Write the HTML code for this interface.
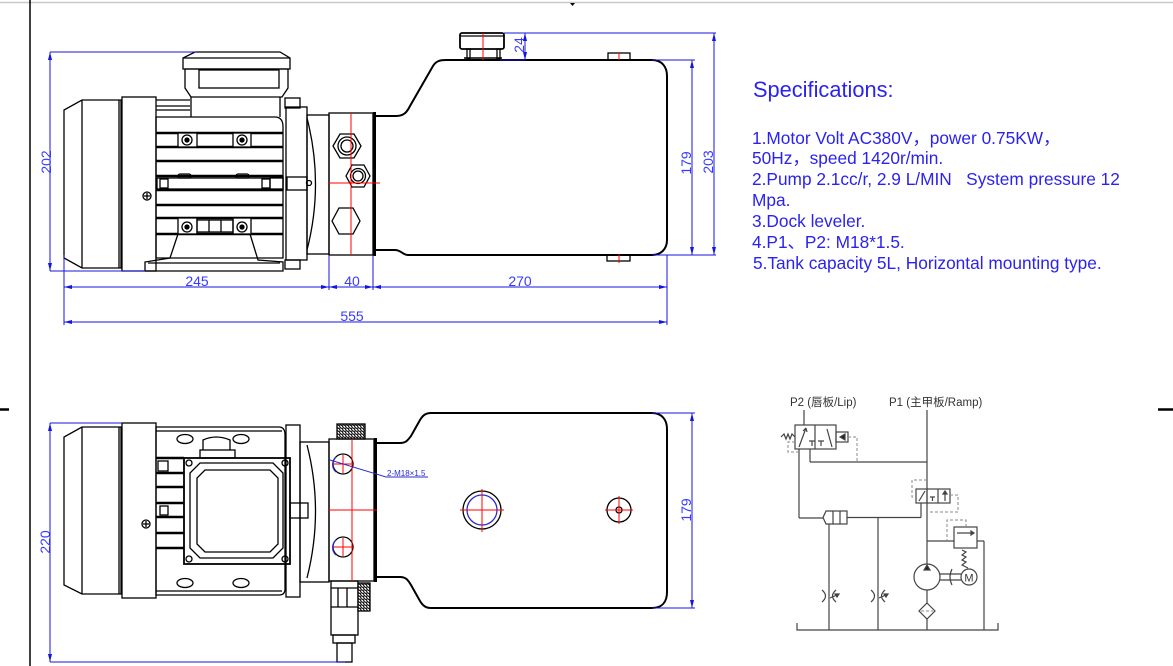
<!DOCTYPE html>
<html><head><meta charset="utf-8"><style>
html,body{margin:0;padding:0;background:#fff;}
svg{display:block;}
.pre{white-space:pre;}
</style></head><body>
<svg width="1173" height="666" viewBox="0 0 1173 666" xmlns="http://www.w3.org/2000/svg">
<defs>
<pattern id="hatch" width="3" height="3" patternUnits="userSpaceOnUse">
<rect width="3" height="3" fill="#fff"/><path d="M0,0 L3,3 M0,2 L1,3" stroke="#222" stroke-width="1.2"/>
</pattern>
</defs>

<!-- frame -->
<line x1="0" y1="2.5" x2="1173" y2="2.5" stroke="#c8c8c8" stroke-width="1.5"/>
<line x1="30" y1="0" x2="30" y2="666" stroke="#000" stroke-width="1.5"/>
<path d="M570,3 l2.5,3 l2.5,-3z" fill="#000"/>
<line x1="0" y1="409.5" x2="9" y2="409.5" stroke="#000" stroke-width="2.5"/>
<line x1="1158" y1="409.5" x2="1173" y2="409.5" stroke="#000" stroke-width="2.5"/>

<!-- ================= TOP VIEW ================= -->
<g stroke="#000" fill="none" stroke-width="1.3">
  <path d="M82,100 L121,100 L121,268 L82,268 L64,258 L64,110 Z"/>
  <line x1="82" y1="100" x2="82" y2="268"/>
  <line x1="119" y1="100" x2="119" y2="268"/>
  <rect x="122" y="97" width="34" height="174"/>
  <line x1="156" y1="100" x2="190" y2="100"/>
  <line x1="156" y1="106" x2="190" y2="106"/>
  <line x1="156" y1="110" x2="190" y2="110"/>
  <line x1="191" y1="97" x2="191" y2="117"/>
  <line x1="280" y1="97" x2="280" y2="117"/>
  <path d="M195,52 L280,52 L290,58 L290,69 L183,69 L183,58 Z"/>
  <line x1="183" y1="58" x2="290" y2="58"/>
  <path d="M185,69 L288,69 L288,88 L282,97 L191,97 L185,88 Z"/>
  <rect x="199" y="70" width="80" height="18"/>
  <path d="M156,117 L275,117 Q283,117 283,127 L283,258 L156,258 Z"/>
  <g stroke-width="2.6">
    <line x1="156" y1="133" x2="283" y2="133"/>
    <line x1="156" y1="147" x2="283" y2="147"/>
    <line x1="156" y1="161" x2="283" y2="161"/>
    <line x1="156" y1="176" x2="283" y2="176"/>
    <line x1="156" y1="190" x2="283" y2="190"/>
    <line x1="156" y1="205" x2="283" y2="205"/>
    <line x1="156" y1="218" x2="283" y2="218"/>
    <line x1="156" y1="234" x2="283" y2="234"/>
  </g>
  <rect x="178" y="133" width="19" height="14" fill="#fff"/>
  <rect x="233" y="133" width="18" height="14" fill="#fff"/>
  <circle cx="187" cy="140" r="5"/><circle cx="187" cy="140" r="2" fill="#000"/>
  <circle cx="242" cy="140" r="5"/><circle cx="242" cy="140" r="2" fill="#000"/>
  <rect x="178" y="218" width="19" height="16" fill="#fff"/>
  <rect x="233" y="218" width="18" height="16" fill="#fff"/>
  <rect x="197" y="220" width="36" height="12"/>
  <line x1="209" y1="220" x2="209" y2="232"/><line x1="221" y1="220" x2="221" y2="232"/>
  <circle cx="187" cy="227" r="5"/><circle cx="187" cy="227" r="2" fill="#000"/>
  <circle cx="242" cy="227" r="5"/><circle cx="242" cy="227" r="2" fill="#000"/>
  <rect x="157" y="178" width="126" height="11" fill="#fff"/>
  <rect x="160" y="179" width="8" height="9"/>
  <rect x="262" y="179" width="8" height="9"/>
  <rect x="270" y="177" width="13" height="13"/>
  <rect x="178" y="174" width="13" height="4" rx="2"/>
  <rect x="236" y="174" width="13" height="4" rx="2"/>
  <path d="M145,271 L283,271 L283,262 L258,260 L250,234 M145,271 L145,262 L170,258 L178,234"/>
  <line x1="148" y1="263" x2="280" y2="263"/>
  <circle cx="147" cy="196" r="4"/><path d="M144,196 h6 M147,193 v6"/>
  <rect x="285" y="98" width="15" height="10"/>
  <rect x="286" y="107" width="21" height="153"/>
  <rect x="285" y="260" width="15" height="9"/>
  <rect x="287" y="177" width="20" height="13"/>
  <circle cx="309" cy="183" r="2.5"/>
  <rect x="307" y="115" width="22" height="139"/>
  <path d="M307,118 Q324,184 307,250"/>
  <rect x="329" y="113" width="44" height="142"/>
  <rect x="373" y="112" width="3" height="144" fill="#000" stroke="none"/>
  <polygon points="333,146 340,134 354,134 361,146 354,158 340,158"/>
  <circle cx="347" cy="146" r="9"/><circle cx="347" cy="146" r="6"/>
  <polygon points="346,176 352,165 364,165 370,176 364,187 352,187"/>
  <circle cx="358" cy="176" r="7.5"/><circle cx="358" cy="176" r="5"/>
  <polygon points="332,221 339,208 353,208 360,221 353,234 339,234"/>
  <path d="M376,116 L396,116 C404,116 407,112 410,106 L433,66 C436,61 440,60 446,60 L652,60 C662,60 667,67 667,76 L667,240 C667,249 661,255 652,255 L408,255 C403,255 401,250 395,250 L376,250" stroke-width="2"/>
  <rect x="460" y="33" width="44" height="16" rx="2" stroke-width="1.8"/>
  <line x1="460" y1="36" x2="504" y2="36"/>
  <rect x="467" y="49" width="3" height="10"/>
  <rect x="497" y="49" width="3" height="10"/>
  <line x1="464" y1="58" x2="502" y2="58" stroke-width="1.5"/>
  <rect x="608" y="53" width="22" height="7"/>
  <rect x="607" y="255" width="23" height="6"/>
</g>
<g stroke="#f00" stroke-width="1">
  <line x1="351" y1="113" x2="351" y2="255"/>
  <line x1="328" y1="183" x2="380" y2="183"/>
  <line x1="483" y1="33" x2="483" y2="60"/>
  <line x1="619" y1="53" x2="619" y2="60"/>
  <line x1="619" y1="254" x2="619" y2="263"/>
</g>

<g stroke="#1515e0" stroke-width="1" fill="none">
  <line x1="50" y1="52" x2="50" y2="271"/>
  <line x1="50" y1="52" x2="196" y2="52"/>
  <line x1="50" y1="271" x2="145" y2="271"/>
  <line x1="525" y1="33" x2="525" y2="60"/>
  <line x1="504" y1="33" x2="716" y2="33"/>
  <line x1="500" y1="60" x2="525" y2="60"/>
  <line x1="714" y1="33" x2="714" y2="255"/>
  <line x1="692" y1="60" x2="692" y2="255"/>
  <line x1="652" y1="60" x2="695" y2="60"/>
  <line x1="652" y1="255" x2="716" y2="255"/>
  <line x1="64" y1="255" x2="64" y2="325"/>
  <line x1="329" y1="255" x2="329" y2="290"/>
  <line x1="373" y1="255" x2="373" y2="290"/>
  <line x1="667" y1="255" x2="667" y2="325"/>
  <line x1="64" y1="287" x2="667" y2="287"/>
  <line x1="64" y1="322" x2="667" y2="322"/>
</g>
<g fill="#1515e0">
  <path d="M50,52 l-2,8 h4z M50,271 l-2,-8 h4z"/>
  <path d="M525,33 l-2,8 h4z M525,60 l-2,-8 h4z"/>
  <path d="M714,33 l-2,8 h4z M714,255 l-2,-8 h4z"/>
  <path d="M692,60 l-2,8 h4z M692,255 l-2,-8 h4z"/>
  <path d="M64,287 l8,-2 v4z M329,287 l-8,-2 v4z M329,287 l8,-2 v4z M373,287 l-8,-2 v4z M373,287 l8,-2 v4z M667,287 l-8,-2 v4z"/>
  <path d="M64,322 l8,-2 v4z M667,322 l-8,-2 v4z"/>
</g>
<g fill="#3a3aff" font-family="'Liberation Sans', sans-serif" font-size="14" text-anchor="middle">
  <text x="197" y="286">245</text>
  <text x="352" y="286">40</text>
  <text x="520" y="286">270</text>
  <text x="352" y="321">555</text>
  <text transform="translate(51,162) rotate(-90)">202</text>
  <text transform="translate(524,45) rotate(-90)">24</text>
  <text transform="translate(691,163) rotate(-90)">179</text>
  <text transform="translate(713,162) rotate(-90)">203</text>
  <text transform="translate(50,542) rotate(-90)">220</text>
  <text transform="translate(691,510) rotate(-90)">179</text>
</g>

<!-- ================= BOTTOM VIEW ================= -->
<g stroke="#000" fill="none" stroke-width="1.3">
  <path d="M82,427 L121,427 L121,594 L82,594 L64,585 L64,437 Z"/>
  <line x1="82" y1="427" x2="82" y2="594"/>
  <line x1="119" y1="427" x2="119" y2="594"/>
  <rect x="122" y="423" width="34" height="175"/>
  <path d="M156,427 L279,427 Q285,427 285,435 L285,589 Q285,595 279,595 L156,595 Z"/>
  <line x1="156" y1="431" x2="282" y2="431"/>
  <line x1="156" y1="591" x2="282" y2="591"/>
  <g stroke-width="2.4">
    <line x1="156" y1="458" x2="184" y2="458"/>
    <line x1="156" y1="473" x2="184" y2="473"/>
    <line x1="156" y1="487" x2="184" y2="487"/>
    <line x1="156" y1="503" x2="184" y2="503"/>
    <line x1="156" y1="517" x2="184" y2="517"/>
    <line x1="156" y1="533" x2="184" y2="533"/>
    <line x1="156" y1="548" x2="184" y2="548"/>
  </g>
  <rect x="158" y="461" width="10" height="10"/>
  <rect x="160" y="506" width="8" height="9"/>
  <ellipse cx="185" cy="439" rx="8" ry="4.5"/>
  <ellipse cx="241" cy="439" rx="8" ry="4.5"/>
  <ellipse cx="185" cy="583" rx="8" ry="4.5"/>
  <ellipse cx="241" cy="583" rx="8" ry="4.5"/>
  <path d="M203,450 L203,440 Q216,434 230,440 L230,450"/>
  <rect x="200" y="450" width="35" height="8"/>
  <circle cx="146" cy="524" r="4"/><path d="M143,524 h6 M146,521 v6"/>
  <rect x="184" y="458" width="106" height="106" stroke-width="1.8"/>
  <path d="M200,463 L273,463 L283,473 L283,548 L273,558 L200,558 L190,548 L190,473 Z"/>
  <path d="M205,470 L270,470 L278,478 L278,544 L270,552 L205,552 L197,544 L197,478 Z"/>
  <circle cx="189" cy="463" r="3"/><circle cx="285" cy="463" r="3"/>
  <circle cx="189" cy="559" r="3"/><circle cx="285" cy="559" r="3"/>
  <rect x="286" y="425" width="14" height="172"/>
  <rect x="290" y="503" width="18" height="15"/>
  <rect x="300" y="442" width="29" height="140"/>
  <path d="M307,445 Q324,511 307,578"/>
  <rect x="337" y="424" width="28" height="15" fill="url(#hatch)"/>
  <rect x="329" y="439" width="45" height="142"/>
  <rect x="374" y="438" width="3" height="144" fill="#000" stroke="none"/>
  <circle cx="343" cy="464" r="10"/>
  <circle cx="343" cy="547" r="10"/>
  <rect x="331" y="581" width="27" height="54"/>
  <line x1="331" y1="588" x2="358" y2="588"/>
  <line x1="331" y1="607" x2="358" y2="607"/>
  <line x1="338" y1="588" x2="338" y2="607"/>
  <line x1="347" y1="588" x2="347" y2="607"/>
  <rect x="333" y="635" width="22" height="8"/>
  <rect x="337" y="643" width="15" height="19"/>
  <rect x="358" y="583" width="12" height="28" fill="url(#hatch)"/>
  <path d="M377,443 L400,443 C406,443 408,440 411,436 L420,420 C423,415 426,413 431,413 L652,413 C662,413 667,420 667,429 L667,592 C667,602 662,608 652,608 L431,608 C426,608 423,606 420,601 L411,585 C408,580 406,577 400,577 L377,577" stroke-width="2"/>
  <circle cx="482" cy="510" r="19"/>
  <circle cx="482" cy="510" r="15" stroke="#2a2ad0"/>
  <circle cx="619" cy="510" r="12"/>
  <circle cx="619" cy="510" r="3"/>
</g>
<g stroke="#2a2ad0" stroke-width="1.2" fill="none">
  <path d="M336,457 A10,10 0 0,0 336,472"/>
  <path d="M336,540 A10,10 0 0,0 336,555"/>
</g>
<g stroke="#f00" stroke-width="1">
  <line x1="352" y1="440" x2="352" y2="581"/>
  <line x1="328" y1="510" x2="377" y2="510"/>
  <line x1="333" y1="464" x2="354" y2="464"/>
  <line x1="343" y1="455" x2="343" y2="473"/>
  <line x1="333" y1="547" x2="354" y2="547"/>
  <line x1="343" y1="538" x2="343" y2="556"/>
  <line x1="460" y1="510" x2="504" y2="510"/>
  <line x1="482" y1="489" x2="482" y2="532"/>
  <line x1="605" y1="510" x2="633" y2="510"/>
  <line x1="619" y1="496" x2="619" y2="524"/>
</g>
<g stroke="#2a2ad0" stroke-width="1" fill="none">
  <line x1="330" y1="460" x2="386" y2="477"/>
  <line x1="386" y1="477" x2="428" y2="477"/>
</g>
<text x="387" y="476" fill="#2a2ad0" font-family="'Liberation Sans', sans-serif" font-size="8">2-M18×1.5</text>
<g stroke="#1515e0" stroke-width="1" fill="none">
  <line x1="50" y1="423" x2="50" y2="662"/>
  <line x1="50" y1="423" x2="122" y2="423"/>
  <line x1="50" y1="662" x2="345" y2="662"/>
  <line x1="692" y1="413" x2="692" y2="608"/>
  <line x1="652" y1="413" x2="695" y2="413"/>
  <line x1="652" y1="608" x2="695" y2="608"/>
</g>
<g fill="#1515e0">
  <path d="M50,423 l-2,8 h4z M50,662 l-2,-8 h4z M692,413 l-2,8 h4z M692,608 l-2,-8 h4z"/>
</g>

<!-- ================= SPECIFICATIONS ================= -->
<g fill="#2b22f0" font-family="'Liberation Sans', 'Noto Sans CJK SC', sans-serif">
  <text x="753" y="97" font-size="21.8">Specifications:</text>
  <g font-size="17.3">
    <text x="752" y="144">1.Motor Volt AC380V，power 0.75KW，</text>
    <text x="752" y="164">50Hz，speed 1420r/min.</text>
    <text x="752" y="185" class="pre">2.Pump 2.1cc/r, 2.9 L/MIN&#160;&#160;&#160;System pressure 12</text>
    <text x="752" y="206">Mpa.</text>
    <text x="752" y="227">3.Dock leveler.</text>
    <text x="752" y="248">4.P1、P2: M18*1.5.</text>
    <text x="753" y="269">5.Tank capacity 5L, Horizontal mounting type.</text>
  </g>
</g>

<!-- ================= HYDRAULIC SCHEMATIC ================= -->
<g font-family="'Liberation Sans', 'Noto Sans CJK SC', sans-serif" font-size="11.5" fill="#333">
  <text x="790" y="406">P2 (唇板/Lip)</text>
  <text x="889" y="406">P1 (主甲板/Ramp)</text>
</g>
<g stroke="#444" stroke-width="1.2" fill="none">
  <line x1="804" y1="410" x2="804" y2="425"/>
  <rect x="795" y="425" width="41" height="24"/>
  <line x1="815" y1="425" x2="815" y2="449"/>
  <line x1="799" y1="447" x2="806" y2="428"/>
  <path d="M806,428 l-3,3 M806,428 l1,4"/>
  <path d="M809,441 h6 M812,441 v5"/>
  <path d="M818,441 h6 M821,441 v5"/>
  <line x1="827" y1="429" x2="832" y2="447"/>
  <rect x="836" y="432" width="12" height="10"/>
  <path d="M845,434 L840,437 L845,440Z" fill="#222"/>
  <path d="M795,437 l-3,-3 l-2,5 l-2,-5 l-2,5 l-2,-5 l-3,3" />
  <line x1="799" y1="449" x2="799" y2="518"/>
  <line x1="799" y1="518" x2="823" y2="518"/>
  <line x1="810" y1="449" x2="810" y2="462"/>
  <line x1="810" y1="462" x2="927" y2="462"/>
  <line x1="927" y1="410" x2="927" y2="630"/>
  <path d="M833,511 L826,511 L823,517.5 L826,524 L833,524"/>
  <rect x="833" y="511" width="14" height="13"/>
  <line x1="840" y1="511" x2="840" y2="524"/>
  <line x1="847" y1="517.5" x2="921" y2="517.5"/>
  <line x1="921" y1="517.5" x2="921" y2="503"/>
  <line x1="829" y1="524" x2="829" y2="630"/>
  <line x1="878" y1="517.5" x2="878" y2="630"/>
  <rect x="916" y="489" width="34" height="14"/>
  <line x1="927" y1="489" x2="927" y2="503"/>
  <line x1="938" y1="489" x2="938" y2="503"/>
  <line x1="919" y1="501" x2="925" y2="491"/>
  <path d="M930,497 h5 M932.5,497 v4"/>
  <line x1="945" y1="501" x2="945" y2="491"/>
  <path d="M945,491 l-2,3 h4z" fill="#444"/>
  <line x1="927" y1="541" x2="954" y2="541"/>
  <rect x="954" y="527" width="23" height="21"/>
  <line x1="957" y1="533" x2="974" y2="533"/>
  <path d="M974,533 l-3,-2 v4z" fill="#444"/>
  <line x1="977" y1="541" x2="984" y2="541"/>
  <line x1="984" y1="541" x2="984" y2="630"/>
  <path d="M962,550 l4,2 l-4,3 l4,2 l-4,3 l4,2 l-4,3 l6,3"/>
  <circle cx="927" cy="577" r="13" fill="#fff"/>
  <path d="M927,565 l-3,5 h6z" fill="#222"/>
  <line x1="940" y1="574" x2="961" y2="574"/>
  <line x1="940" y1="580" x2="961" y2="580"/>
  <path d="M952,569 Q948,577 952,585"/>
  <circle cx="969" cy="577" r="8" fill="#fff"/>
  <polygon points="927,603 935,611 927,619 919,611" fill="#fff"/>
  <path d="M822,590 Q829,596 822,602 M836,590 Q829,596 836,602"/>
  <line x1="830" y1="598" x2="839" y2="594"/>
  <path d="M839,594 l-4,0 l2,3z" fill="#444"/>
  <path d="M871,590 Q878,596 871,602 M885,590 Q878,596 885,602"/>
  <line x1="879" y1="598" x2="888" y2="594"/>
  <path d="M888,594 l-4,0 l2,3z" fill="#444"/>
  <path d="M797,623 L797,630 L998,630 L998,623"/>
</g>
<text x="969" y="581.5" font-family="'Liberation Sans', sans-serif" font-size="11" fill="#333" text-anchor="middle">M</text>
<g stroke="#888" stroke-width="1" fill="none" stroke-dasharray="3,2">
  <path d="M848,437 L857,437 L857,462"/>
  <path d="M795,442 L788,442 L788,452 L798,452"/>
  <path d="M927,480 L912,480 L912,497 L916,497"/>
  <path d="M950,495 L958,495 L958,512 L927,512"/>
  <path d="M966,527 L966,520 L947,520 L947,541"/>
  <line x1="921" y1="611" x2="933" y2="611"/>
</g>
</svg>
</body></html>
